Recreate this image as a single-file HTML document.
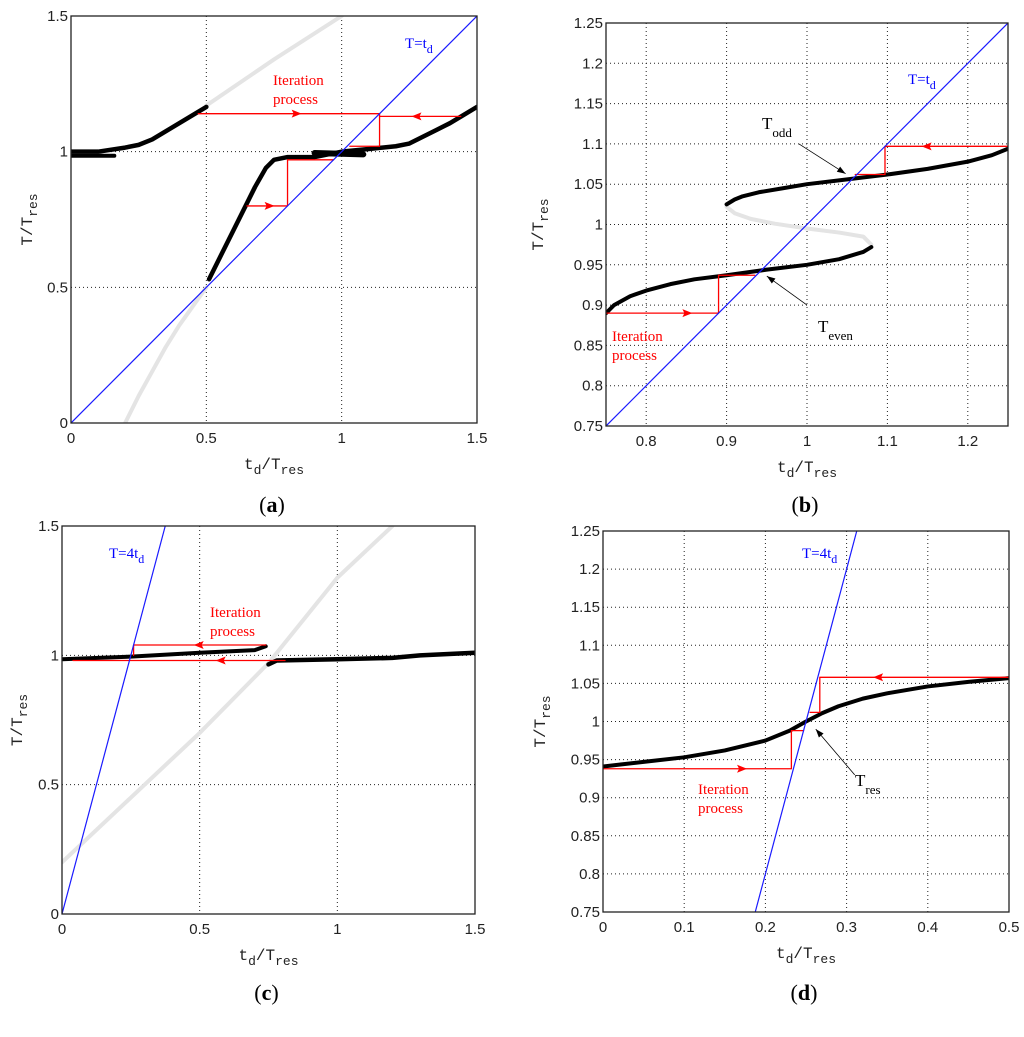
<!DOCTYPE html>
<html><head><meta charset="utf-8"><style>
html,body{margin:0;padding:0;background:#fff;}
svg{display:block;font-family:"Liberation Sans",sans-serif;}
</style></head>
<body>
<svg id="fig" width="1024" height="1037" viewBox="0 0 1024 1037" xmlns="http://www.w3.org/2000/svg"></svg>
<script>
// ---------- Panel (a) data ----------
const aBlackUpperX = [0, 0.1, 0.2, 0.25, 0.3, 0.35, 0.4, 0.45, 0.5];
const aBlackUpperY = [1.0, 1.0, 1.015, 1.025, 1.045, 1.075, 1.105, 1.135, 1.165];
const aBlackLowerX = [0.51, 0.6, 0.68, 0.72, 0.75, 0.8, 0.9, 1.0, 1.1, 1.2, 1.25, 1.3, 1.35, 1.4, 1.45, 1.5];
const aBlackLowerY = [0.53, 0.71, 0.87, 0.94, 0.97, 0.98, 0.98, 1.0, 1.01, 1.02, 1.03, 1.055, 1.08, 1.105, 1.135, 1.165];
const aGrayLowX = [0.2, 0.25, 0.3, 0.35, 0.4, 0.45, 0.5];
const aGrayLowY = [0, 0.1, 0.19, 0.28, 0.36, 0.43, 0.5];
const aGrayHighX = [0.5, 0.75, 1.0];
const aGrayHighY = [1.17, 1.34, 1.5];
const aRedX = [0.47, 1.14, 1.14, 1.03];
const aRedY = [1.14, 1.14, 1.02, 1.02];
const aRed2X = [1.14, 1.44];
const aRed2Y = [1.13, 1.13];
const aRed3X = [0.65, 0.8, 0.8, 0.97];
const aRed3Y = [0.8, 0.8, 0.97, 0.97];
// ---------- Panel (b) data ----------
const bBlackUpperX = [0.9, 0.91, 0.92, 0.94, 0.97, 1.0, 1.05, 1.1, 1.15, 1.2, 1.23, 1.25];
const bBlackUpperY = [1.025, 1.031, 1.035, 1.04, 1.045, 1.05, 1.056, 1.062, 1.069, 1.078, 1.086, 1.094];
const bBlackLowerX = [0.75, 0.76, 0.78, 0.8, 0.83, 0.86, 0.9, 0.95, 1.0, 1.04, 1.07, 1.08];
const bBlackLowerY = [0.89, 0.9, 0.911, 0.918, 0.926, 0.932, 0.937, 0.944, 0.95, 0.957, 0.966, 0.972];
const bGrayX = [0.9, 0.91, 0.93, 0.96, 1.0, 1.04, 1.07, 1.08];
const bGrayY = [1.022, 1.014, 1.007, 1.001, 0.995, 0.99, 0.985, 0.975];
const bRedX = [0.75, 0.89, 0.89, 0.935];
const bRedY = [0.89, 0.89, 0.937, 0.937];
const bRed2X = [1.25, 1.097, 1.097, 1.06];
const bRed2Y = [1.097, 1.097, 1.062, 1.062];
// ---------- Panel (c) data ----------
const cGrayX = [0, 0.3, 0.5, 0.75, 1.0, 1.2];
const cGrayY = [0.2, 0.5, 0.7, 0.97, 1.3, 1.5];
const cBlackUpperX = [0, 0.25, 0.5, 0.7, 0.74];
const cBlackUpperY = [0.985, 0.995, 1.01, 1.02, 1.035];
const cBlackLowerX = [0.75, 0.78, 1.0, 1.2, 1.3, 1.5];
const cBlackLowerY = [0.965, 0.98, 0.985, 0.99, 1.0, 1.01];
const cRedX = [0.74, 0.26, 0.26];
const cRedY = [1.04, 1.04, 1.0];
const cRed2X = [0.81, 0.04];
const cRed2Y = [0.98, 0.98];
// ---------- Panel (d) data ----------
const dBlackX = [0, 0.05, 0.1, 0.15, 0.2, 0.23, 0.25, 0.27, 0.29, 0.32, 0.35, 0.4, 0.45, 0.5];
const dBlackY = [0.941, 0.947, 0.953, 0.962, 0.975, 0.988, 1.0, 1.011, 1.02, 1.03, 1.037, 1.046, 1.052, 1.057];
const dRedX = [0, 0.232, 0.232, 0.247];
const dRedY = [0.938, 0.938, 0.988, 0.988];
const dRed2X = [0.5, 0.267, 0.267, 0.255];
const dRed2Y = [1.058, 1.058, 1.012, 1.012];
// ticks
const ticksA = [0, 0.5, 1, 1.5];
const tickLabelsA = ["0", "0.5", "1", "1.5"];
const ticksBY = [0.75,0.8,0.85,0.9,0.95,1,1.05,1.1,1.15,1.2,1.25];
const tickLabelsBY = ["0.75","0.8","0.85","0.9","0.95","1","1.05","1.1","1.15","1.2","1.25"];
const ticksBX = [0.8,0.9,1,1.1,1.2];
const tickLabelsBX = ["0.8","0.9","1","1.1","1.2"];
const ticksDX = [0,0.1,0.2,0.3,0.4,0.5];
const tickLabelsDX = ["0","0.1","0.2","0.3","0.4","0.5"];

const NS = "http://www.w3.org/2000/svg";
const fig = document.getElementById('fig');
function mk(tag, attrs, parent){
  const e = document.createElementNS(NS, tag);
  for (const k in attrs) e.setAttribute(k, attrs[k]);
  (parent||fig).appendChild(e);
  return e;
}
function panel(cfg){
  const g = mk('g', {});
  
  
  const sx = v => cfg.x0 + (v - cfg.xmin) / (cfg.xmax - cfg.xmin) * (cfg.x1 - cfg.x0);
  const sy = v => cfg.y1 - (v - cfg.ymin) / (cfg.ymax - cfg.ymin) * (cfg.y1 - cfg.y0);
  const clip = mk('clipPath', {id: 'clip' + cfg.id}, g);
  mk('rect', {x: cfg.x0, y: cfg.y0, width: cfg.x1 - cfg.x0, height: cfg.y1 - cfg.y0}, clip);
  const plot = mk('g', {'clip-path': 'url(#clip' + cfg.id + ')'}, g);
  cfg.xt.forEach((t, i) => {
    const gl = mk('line', {x1: sx(t), x2: sx(t), y1: cfg.y0, y2: cfg.y1, stroke: '#222', 'stroke-width': 1, 'stroke-dasharray': '1,3'}, plot);
    
    
    const tl = mk('text', {x: sx(t), y: cfg.y1 + 20, 'text-anchor': 'middle', 'font-size': 15, fill: '#222'}, g);
    tl.textContent = cfg.xl[i];
    
    
  });
  cfg.yt.forEach((t, i) => {
    const gl = mk('line', {x1: cfg.x0, x2: cfg.x1, y1: sy(t), y2: sy(t), stroke: '#222', 'stroke-width': 1, 'stroke-dasharray': '1,3'}, plot);
    
    
    const tl = mk('text', {x: cfg.x0 - 3, y: sy(t) + 5, 'text-anchor': 'end', 'font-size': 15, fill: '#222'}, g);
    tl.textContent = cfg.yl[i];
    
    
  });
  const line = (xs, ys, color, w, name) => {
    const p = mk('polyline', {points: xs.map((x, i) => sx(x) + ',' + sy(ys[i])).join(' '), fill: 'none', stroke: color, 'stroke-width': w, 'stroke-linejoin': 'round', 'stroke-linecap': 'round'}, plot);
    
    
    return p;
  };
  const arrow = (x, y, dir, name) => {
    const px = sx(x), py = sy(y);
    const a = mk('path', {d: 'M' + (px + 6 * dir) + ',' + py + ' L' + (px - 4 * dir) + ',' + (py - 4) + ' L' + (px - 2 * dir) + ',' + py + ' L' + (px - 4 * dir) + ',' + (py + 4) + 'Z', fill: '#f00'}, plot);
    
    
  };
  cfg.draw({line, arrow, sx, sy, g, plot});
  const bl = mk('line', {x1: sx(cfg.bx[0]), y1: sy(cfg.by[0]), x2: sx(cfg.bx[1]), y2: sy(cfg.by[1]), stroke: '#1a1aff', 'stroke-width': 1.2}, plot);
  
  
  const fr = mk('rect', {x: cfg.x0, y: cfg.y0, width: cfg.x1 - cfg.x0, height: cfg.y1 - cfg.y0, fill: 'none', stroke: '#222', 'stroke-width': 1.3}, g);
  
  
  const xt = mk('text', {x: (cfg.x0 + cfg.x1) / 2, y: cfg.y1 + 46, 'text-anchor': 'middle', 'font-size': 16, 'font-family': '"Liberation Mono", monospace', fill: '#222'}, g);
  xt.innerHTML = 't<tspan dy="5" font-size="13">d</tspan><tspan dy="-5">/T</tspan><tspan dy="5" font-size="13">res</tspan>';
  
  
  const ycx = cfg.ytx, ycy = (cfg.y0 + cfg.y1) / 2;
  const yt = mk('text', {x: ycx, y: ycy, 'text-anchor': 'middle', 'font-size': 16, 'font-family': '"Liberation Mono", monospace', fill: '#222', transform: 'rotate(-90 ' + ycx + ' ' + ycy + ')'}, g);
  yt.innerHTML = 'T/T<tspan dy="5" font-size="13">res</tspan>';
  
  
  const pl = mk('text', {x: (cfg.x0 + cfg.x1) / 2 - 2, y: cfg.labY, 'text-anchor': 'middle', 'font-size': 22, 'font-family': '"Liberation Serif", serif', fill: '#000'}, g);
  pl.innerHTML = '(<tspan font-weight="bold">' + cfg.id + '</tspan>)';
  
  
}
function txt(parent, x, y, s, color, size, name, html){
  const t = mk('text', {x: x, y: y, 'font-size': size, 'font-family': '"Liberation Serif", serif', fill: color}, parent);
  if (html) t.innerHTML = s; else t.textContent = s;
  
  
  return t;
}
function ann(parent, x1, y1, x2, y2){
  const l = mk('line', {x1, y1, x2, y2, stroke: '#000', 'stroke-width': 0.8}, parent);
  
  
  const a = Math.atan2(y2 - y1, x2 - x1), L = 9, W = 0.35;
  const h = mk('path', {d: 'M' + x2 + ',' + y2 + ' L' + (x2 - L * Math.cos(a - W)) + ',' + (y2 - L * Math.sin(a - W)) + ' L' + (x2 - L * Math.cos(a + W)) + ',' + (y2 - L * Math.sin(a + W)) + 'Z', fill: '#000'}, parent);
  
  
}

panel({id: 'a', x0: 71, x1: 477, y0: 16, y1: 423, xmin: 0, xmax: 1.5, ymin: 0, ymax: 1.5,
  xt: ticksA, xl: tickLabelsA, yt: ticksA, yl: tickLabelsA, bx: [0, 1.5], by: [0, 1.5], ytx: 32, labY: 512,
  draw: (p) => {
    p.line(aGrayLowX, aGrayLowY, '#e4e4e4', 4, 'unstable-branch-low');
    p.line(aGrayHighX, aGrayHighY, '#e4e4e4', 4, 'unstable-branch-high');
    p.line(aBlackUpperX, aBlackUpperY, '#000', 4.5, 'stable-branch-upper');
    p.line([0, 0.16], [0.985, 0.985], '#000', 4, 'stable-branch-blob');
    p.line(aBlackLowerX, aBlackLowerY, '#000', 4.5, 'stable-branch-lower');
    p.line([0.9, 1.08], [0.995, 0.99], '#000', 6, 'stable-branch-blob2');
    p.line(aRedX, aRedY, '#f00', 1.3, 'iteration-path-1');
    p.line(aRed2X, aRed2Y, '#f00', 1.3, 'iteration-path-2');
    p.line(aRed3X, aRed3Y, '#f00', 1.3, 'iteration-path-3');
    p.arrow(0.83, 1.14, 1, 'iteration-arrow');
    p.arrow(1.28, 1.13, -1, 'iteration-arrow');
    p.arrow(0.73, 0.8, 1, 'iteration-arrow');
    txt(p.g, 273, 85, 'Iteration', '#f00', 15, 'iteration-label');
    txt(p.g, 273, 104, 'process', '#f00', 15, 'iteration-label');
    txt(p.g, 405, 48, 'T=t<tspan dy="5" font-size="12">d</tspan>', '#00f', 15, 'reference-line-label', true);
  }});

panel({id: 'b', x0: 606, x1: 1008, y0: 23, y1: 426, xmin: 0.75, xmax: 1.25, ymin: 0.75, ymax: 1.25,
  xt: ticksBX, xl: tickLabelsBX, yt: ticksBY, yl: tickLabelsBY, bx: [0.75, 1.25], by: [0.75, 1.25], ytx: 543, labY: 512,
  draw: (p) => {
    p.line(bGrayX, bGrayY, '#e4e4e4', 4, 'unstable-branch');
    p.line(bBlackUpperX, bBlackUpperY, '#000', 4, 'stable-branch-upper');
    p.line(bBlackLowerX, bBlackLowerY, '#000', 4, 'stable-branch-lower');
    p.line(bRedX, bRedY, '#f00', 1.3, 'iteration-path-1');
    p.line(bRed2X, bRed2Y, '#f00', 1.3, 'iteration-path-2');
    p.arrow(0.85, 0.89, 1, 'iteration-arrow');
    p.arrow(1.15, 1.097, -1, 'iteration-arrow');
    txt(p.g, 612, 341, 'Iteration', '#f00', 15, 'iteration-label');
    txt(p.g, 612, 360, 'process', '#f00', 15, 'iteration-label');
    txt(p.g, 908, 84, 'T=t<tspan dy="5" font-size="12">d</tspan>', '#00f', 15, 'reference-line-label', true);
    txt(p.g, 762, 129, 'T<tspan dy="8" font-size="13">odd</tspan>', '#000', 17, 'label-t-odd', true);
    ann(p.g, p.sx(0.99), p.sy(1.1), p.sx(1.048), p.sy(1.063));
    txt(p.g, 818, 332, 'T<tspan dy="8" font-size="13">even</tspan>', '#000', 17, 'label-t-even', true);
    ann(p.g, p.sx(1.0), p.sy(0.9), p.sx(0.95), p.sy(0.936));
  }});

panel({id: 'c', x0: 62, x1: 475, y0: 526, y1: 914, xmin: 0, xmax: 1.5, ymin: 0, ymax: 1.5,
  xt: ticksA, xl: tickLabelsA, yt: ticksA, yl: tickLabelsA, bx: [0, 0.375], by: [0, 1.5], ytx: 22, labY: 1000,
  draw: (p) => {
    p.line(cGrayX, cGrayY, '#e4e4e4', 4, 'unstable-branch');
    p.line(cBlackUpperX, cBlackUpperY, '#000', 4, 'stable-branch-upper');
    p.line(cBlackLowerX, cBlackLowerY, '#000', 4.5, 'stable-branch-lower');
    p.line(cRedX, cRedY, '#f00', 1.3, 'iteration-path-1');
    p.line(cRed2X, cRed2Y, '#f00', 1.3, 'iteration-path-2');
    p.arrow(0.5, 1.04, -1, 'iteration-arrow');
    p.arrow(0.58, 0.98, -1, 'iteration-arrow');
    txt(p.g, 210, 617, 'Iteration', '#f00', 15, 'iteration-label');
    txt(p.g, 210, 636, 'process', '#f00', 15, 'iteration-label');
    txt(p.g, 109, 558, 'T=4t<tspan dy="5" font-size="12">d</tspan>', '#00f', 15, 'reference-line-label', true);
  }});

panel({id: 'd', x0: 603, x1: 1009, y0: 531, y1: 912, xmin: 0, xmax: 0.5, ymin: 0.75, ymax: 1.25,
  xt: ticksDX, xl: tickLabelsDX, yt: ticksBY, yl: tickLabelsBY, bx: [0.1875, 0.3125], by: [0.75, 1.25], ytx: 545, labY: 1000,
  draw: (p) => {
    p.line(dBlackX, dBlackY, '#000', 4, 'stable-branch');
    p.line(dRedX, dRedY, '#f00', 1.3, 'iteration-path-1');
    p.line(dRed2X, dRed2Y, '#f00', 1.3, 'iteration-path-2');
    p.arrow(0.17, 0.938, 1, 'iteration-arrow');
    p.arrow(0.34, 1.058, -1, 'iteration-arrow');
    txt(p.g, 698, 794, 'Iteration', '#f00', 15, 'iteration-label');
    txt(p.g, 698, 813, 'process', '#f00', 15, 'iteration-label');
    txt(p.g, 802, 558, 'T=4t<tspan dy="5" font-size="12">d</tspan>', '#00f', 15, 'reference-line-label', true);
    txt(p.g, 855, 786, 'T<tspan dy="8" font-size="13">res</tspan>', '#000', 17, 'label-t-res', true);
    ann(p.g, p.sx(0.31), p.sy(0.93), p.sx(0.262), p.sy(0.99));
  }});
</script>
</body></html>
